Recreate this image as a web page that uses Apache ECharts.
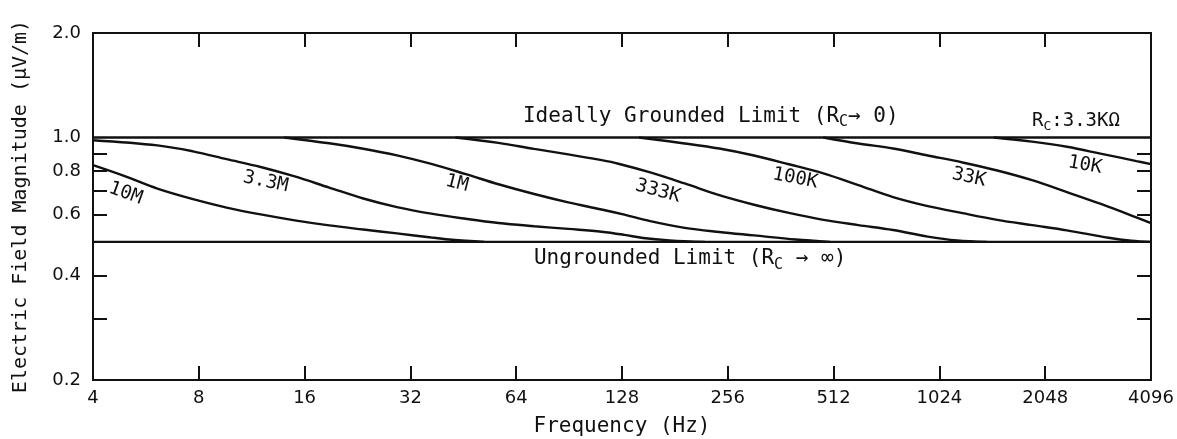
<!DOCTYPE html>
<html>
<head>
<meta charset="utf-8">
<script src="https://cdn.jsdelivr.net/npm/echarts@6/dist/echarts.min.js"></script>
<style>
html, body { margin: 0; padding: 0; background: #fff; }
#chart { width: 1177px; height: 439px; }
</style>
</head>
<body>
<div id="chart"></div>
<script>
// frequency axis (Hz), log base 2
var freqLabels = [4, 8, 16, 32, 64, 128, 256, 512, 1024, 2048, 4096];
var freqTicks = [8, 16, 32, 64, 128, 256, 512, 1024, 2048];
// magnitude axis (uV/m), log base 10
var magLabels = [0.2, 0.4, 0.6, 0.8, 1.0, 2.0];
var magTicks = [0.3, 0.4, 0.6, 0.7, 0.8, 0.9];

// limits
var groundedLimit = [[4, 1.0], [4096, 1.0]];
var ungroundedLimit = [[4, 0.5], [4096, 0.5]];

// curves for each contact resistance, [frequency, magnitude]
var curve10M = [[4, 0.832], [4.9, 0.775], [6.1, 0.712], [7.7, 0.664], [9.6, 0.628], [12, 0.6], [15, 0.577],
	[18.8, 0.558], [23.5, 0.543], [29.3, 0.529], [36.7, 0.515], [42, 0.507], [52, 0.5]];
var curve3M3 = [[4, 0.982], [6.1, 0.949], [7.7, 0.912], [9.6, 0.866], [12, 0.822], [15, 0.772], [18.8, 0.717],
	[23.5, 0.667], [29.3, 0.63], [36.7, 0.603], [46, 0.583], [57, 0.567], [72, 0.555], [90, 0.545],
	[112, 0.535], [130, 0.524], [147, 0.513], [175, 0.505], [220, 0.5]];
var curve1M = [[14, 1.0], [18.8, 0.962], [23.5, 0.928], [29.3, 0.888], [36.7, 0.839], [46, 0.784], [57, 0.733],
	[72, 0.687], [90, 0.65], [112, 0.62], [130, 0.599], [154, 0.574], [193, 0.549], [242, 0.534],
	[304, 0.522], [400, 0.508], [500, 0.5]];
var curve333K = [[43, 1.0], [57, 0.965], [72, 0.927], [90, 0.894], [112, 0.86], [125, 0.84], [154, 0.793],
	[193, 0.737], [242, 0.682], [304, 0.64], [382, 0.606], [479, 0.579], [602, 0.559], [756, 0.541],
	[949, 0.518], [1150, 0.505], [1400, 0.5]];
var curve100K = [[143, 1.0], [193, 0.961], [242, 0.929], [304, 0.887], [382, 0.837], [479, 0.788], [602, 0.729],
	[756, 0.673], [949, 0.634], [1192, 0.605], [1496, 0.579], [1879, 0.559], [2361, 0.54], [3100, 0.514],
	[3600, 0.504], [4096, 0.5]];
var curve33K = [[479, 1.0], [602, 0.961], [756, 0.929], [949, 0.887], [1192, 0.847], [1496, 0.803],
	[1879, 0.753], [2361, 0.696], [2964, 0.642], [3722, 0.588], [4096, 0.566]];
var curve10K = [[1463, 1.0], [1879, 0.973], [2361, 0.94], [2964, 0.897], [3722, 0.855], [4096, 0.838]];

// curve names and where their label sits (data coords)
var curveNames = ['10M', '3.3M', '1M', '333K', '100K', '33K', '10K'];
var curveLabelAt = [[4.95, 0.69], [12.4, 0.745], [43.4, 0.737], [162, 0.7], [398, 0.762], [1243, 0.767], [2657, 0.832]];
var curveLabelTilt = [-20, -12, -14, -15, -11, -12, -10];

var FONT = 'DejaVu Sans';
var LETTER = 'DejaVu Sans Mono';
var INK = '#111';

function curveSeries(name, data, at, tilt) {
	return {
		type : 'line',
		name : name,
		data : data,
		smooth : 0.35,
		symbol : 'none',
		silent : true,
		lineStyle : {
			color : INK,
			width : 2.4
		},
		markPoint : {
			symbol : 'circle',
			symbolSize : 0,
			silent : true,
			data : [ {
				coord : at,
				label : {
					show : true,
					position : 'inside',
					formatter : name,
					rotate : tilt,
					color : INK,
					fontFamily : LETTER,
					fontSize : 19
				}
			} ]
		}
	};
}

// 标注文字 (limit lines)
function limitSeries(data, at, text, offsetY) {
	return {
		type : 'line',
		data : data,
		symbol : 'none',
		silent : true,
		lineStyle : {
			color : INK,
			width : 2.4
		},
		markPoint : {
			symbol : 'circle',
			symbolSize : 0,
			silent : true,
			data : [ {
				coord : at,
				label : {
					show : true,
					position : 'inside',
					offset : [ 0, offsetY ],
					formatter : text,
					color : INK,
					fontFamily : LETTER,
					fontSize : 21,
					rich : {
						s : {
							fontFamily : LETTER,
							fontSize : 15,
							color : INK,
							padding : [ 12, 0, 0, 0 ]
						}
					}
				}
			} ]
		}
	};
}

var curves = [curve10M, curve3M3, curve1M, curve333K, curve100K, curve33K, curve10K];
var series = [
	limitSeries(groundedLimit, [229, 1.0], 'Ideally Grounded Limit (R{s|C}\u2192 0)', -21),
	limitSeries(ungroundedLimit, [200, 0.5], 'Ungrounded Limit (R{s|C} \u2192 \u221E)', 17)
];
// Rc = 3.3K label on the grounded line
series.push({
	type : 'line',
	data : [],
	markPoint : {
		symbol : 'circle',
		symbolSize : 0,
		silent : true,
		data : [ {
			coord : [2505, 1.0],
			label : {
				show : true,
				position : 'inside',
				offset : [ 0, -16 ],
				formatter : 'R{s|C}:3.3K\u03A9',
				color : INK,
				fontFamily : LETTER,
				fontSize : 19,
				rich : {
					s : {
						fontFamily : LETTER,
						fontSize : 13,
						color : INK,
						padding : [ 10, 0, 0, 0 ]
					}
				}
			}
		} ]
	}
});
for (var i = 0; i < curves.length; i++) {
	series.push(curveSeries(curveNames[i], curves[i], curveLabelAt[i], curveLabelTilt[i]));
}

var tickStyle = {
	color : INK,
	width : 2
};

var option = {
	backgroundColor : '#fff',
	animation : false,
	textStyle : {
		fontFamily : FONT,
		color : INK
	},
	grid : {
		left : 93,
		right : 26,
		top : 33,
		bottom : 59,
		outerBoundsMode : 'none',
		containLabel : false,
		show : true,
		borderColor : INK,
		borderWidth : 2,
		backgroundColor : 'transparent'
	},
	xAxis : [ {
		type : 'log',
		logBase : 2,
		min : 4,
		max : 4096,
		name : 'Frequency (Hz)',
		nameLocation : 'middle',
		nameGap : 36,
		nameTextStyle : {
			fontFamily : LETTER,
			fontSize : 21,
			color : INK
		},
		axisLine : {
			show : false
		},
		splitLine : {
			show : false
		},
		axisTick : {
			inside : true,
			length : 14,
			lineStyle : tickStyle,
			customValues : freqTicks
		},
		axisLabel : {
			fontFamily : FONT,
			fontSize : 18,
			color : INK,
			margin : 9,
			customValues : freqLabels,
			formatter : function(v) {
				return String(Math.round(v));
			}
		}
	}, {
		type : 'log',
		logBase : 2,
		min : 4,
		max : 4096,
		position : 'top',
		axisLine : {
			show : false
		},
		splitLine : {
			show : false
		},
		axisLabel : {
			show : false
		},
		axisTick : {
			inside : true,
			length : 14,
			lineStyle : tickStyle,
			customValues : freqTicks
		}
	} ],
	yAxis : [ {
		type : 'log',
		logBase : 10,
		min : 0.2,
		max : 2.0,
		name : 'Electric Field Magnitude (\u03BCV/m)',
		nameLocation : 'middle',
		nameGap : 62,
		nameTextStyle : {
			fontFamily : LETTER,
			fontSize : 20,
			color : INK
		},
		axisLine : {
			show : false
		},
		splitLine : {
			show : false
		},
		axisTick : {
			inside : true,
			length : 14,
			lineStyle : tickStyle,
			customValues : magTicks
		},
		axisLabel : {
			fontFamily : FONT,
			fontSize : 18,
			color : INK,
			margin : 12,
			customValues : magLabels,
			formatter : function(v) {
				return v.toFixed(1);
			}
		}
	}, {
		type : 'log',
		logBase : 10,
		min : 0.2,
		max : 2.0,
		position : 'right',
		axisLine : {
			show : false
		},
		splitLine : {
			show : false
		},
		axisLabel : {
			show : false
		},
		axisTick : {
			inside : true,
			length : 14,
			lineStyle : tickStyle,
			customValues : magTicks
		}
	} ],
	series : series
};

var myChart = echarts.init(document.getElementById('chart'));
myChart.setOption(option);
</script>
</body>
</html>
